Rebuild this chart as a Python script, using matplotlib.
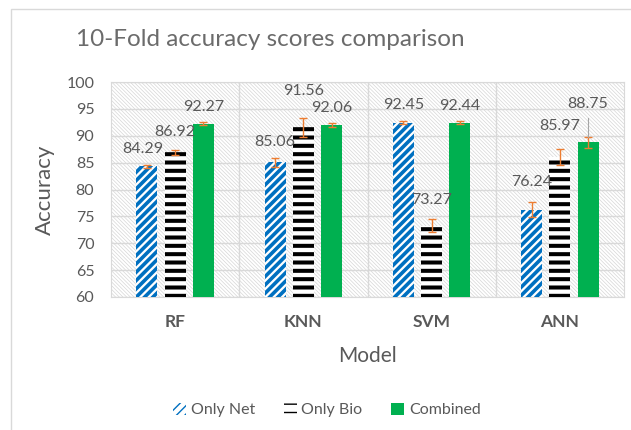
"""10-Fold accuracy scores comparison (barras agrupadas estilo Excel)."""

import matplotlib
matplotlib.use("Agg")
import matplotlib.pyplot as plt
import numpy as np
from matplotlib.patches import Patch, Rectangle

plt.rcParams["font.family"] = ["Lato", "DejaVu Sans"]

modelos = ["RF", "KNN", "SVM", "ANN"]
series = ["Only Net", "Only Bio", "Combined"]
only_net = [84.29, 85.06, 92.45, 76.24]
only_bio = [86.92, 91.56, 73.27, 85.97]
combined = [92.27, 92.06, 92.44, 88.75]
err_net = [0.3, 0.8, 0.3, 1.4]
err_bio = [0.5, 1.8, 1.2, 1.5]
err_comb = [0.3, 0.4, 0.3, 1.0]
yticks = [60, 65, 70, 75, 80, 85, 90, 95, 100]

GRIS = "#595959"
AZUL = "#0070C0"
VERDE = "#00B050"
NARANJA = "#ED7D31"

# desplazamiento de etiquetas (px sobre la cima de la barra)
lbl_off = [[17, 20, 17], [20, 36, 17], [18, 26, 17], [28, 31, 38]]
lbl_dx = [[-4, 0, 0], [0, 0, 0], [0, 0, 0], [0, 0, 0]]

fig = plt.figure(figsize=(6.31, 4.30), dpi=100)
# borde del área del gráfico
fig.add_artist(Rectangle((11 / 631, -0.05), 1.2, 1.05 - 9 / 430,
                         transform=fig.transFigure, fill=False,
                         edgecolor="#d9d9d9", lw=1.0))

ax = fig.add_axes([111 / 631, 1 - 297 / 430, 513 / 631, 215 / 430])

# fondo rayado gris claro
with plt.rc_context({"hatch.linewidth": 0.5}):
    fondo = Rectangle((0, 0), 1, 1, transform=ax.transAxes, facecolor="white",
                      edgecolor="#d6d6d6", hatch="\\" * 9, lw=0, zorder=0)
    ax.add_patch(fondo)
if hasattr(fondo, "set_hatch_linewidth"):
    fondo.set_hatch_linewidth(0.5)

x = np.arange(len(modelos))
ancho = 0.164
paso = 0.22
estilos = [
    dict(facecolor="white", edgecolor=AZUL, hatch="////", hlw=2.6),
    dict(facecolor="white", edgecolor="black", hatch="--", hlw=2.9),
    dict(facecolor=VERDE, edgecolor=VERDE, hatch=None, hlw=1.0),
]
valores = [only_net, only_bio, combined]
errores = [err_net, err_bio, err_comb]

for k, (vals, errs, st) in enumerate(zip(valores, errores, estilos)):
    pos = x + (k - 1) * paso
    with plt.rc_context({"hatch.linewidth": st["hlw"]}):
        barras = ax.bar(pos, vals, width=ancho, facecolor=st["facecolor"],
                        edgecolor=st["edgecolor"], hatch=st["hatch"], lw=0,
                        zorder=3)
    for b in barras:
        if hasattr(b, "set_hatch_linewidth"):
            b.set_hatch_linewidth(st["hlw"])
    ax.errorbar(pos, vals, yerr=errs, fmt="none", ecolor=NARANJA, elinewidth=1,
                capsize=3, capthick=1, zorder=4)
    for i, v in enumerate(vals):
        dy = lbl_off[i][k] * 0.72
        ax.annotate(f"{v:.2f}", (pos[i], v), xytext=(lbl_dx[i][k] * 0.72, dy),
                    textcoords="offset points", ha="center", va="center",
                    fontsize=11.5, color=GRIS, zorder=5)
        if i == 3 and k == 2:
            # línea guía de la etiqueta desplazada
            ax.plot([pos[i], pos[i]], [v + errs[i], v + 4.6], color="#a6a6a6",
                    lw=0.8, zorder=4)

ax.set_xlim(-0.5, len(modelos) - 0.5)
ax.set_ylim(60, 100)
ax.set_yticks(yticks)
ax.set_yticklabels([str(t) for t in yticks], fontsize=11.5, color=GRIS)
ax.set_xticks(x)
ax.set_xticklabels(modelos, fontsize=12.5, fontweight="bold", color=GRIS)
ax.tick_params(axis="x", length=0, pad=12)
ax.tick_params(axis="y", length=0, pad=12)

ax.grid(axis="y", color="#d9d9d9", lw=1, zorder=1)
for sep in np.arange(0.5, len(modelos) - 0.5, 1.0):
    ax.axvline(sep, color="#d9d9d9", lw=1, zorder=1)
for s in ax.spines.values():
    s.set_color("#d9d9d9")

ax.set_ylabel("Accuracy", fontsize=16, color=GRIS, labelpad=8)
ax.set_xlabel("Model", fontsize=15, color=GRIS, labelpad=12)

fig.text(270 / 631, 1 - 40 / 430, "10-Fold accuracy scores comparison",
         ha="center", va="center", fontsize=17.5, color="#6b6b6b")

handles = []
for st, nombre in zip(estilos, series):
    with plt.rc_context({"hatch.linewidth": st["hlw"]}):
        h = Patch(facecolor=st["facecolor"], edgecolor=st["edgecolor"],
                  hatch=st["hatch"], lw=0, label=nombre)
    handles.append(h)
fig.legend(handles=handles, loc="center", bbox_to_anchor=(327 / 631, 1 - 410 / 430),
           ncol=3, frameon=False, fontsize=11.5, labelcolor=GRIS,
           handlelength=0.8, handleheight=0.8, handletextpad=0.3,
           columnspacing=1.8)

fig.savefig("out.png", dpi=100)
